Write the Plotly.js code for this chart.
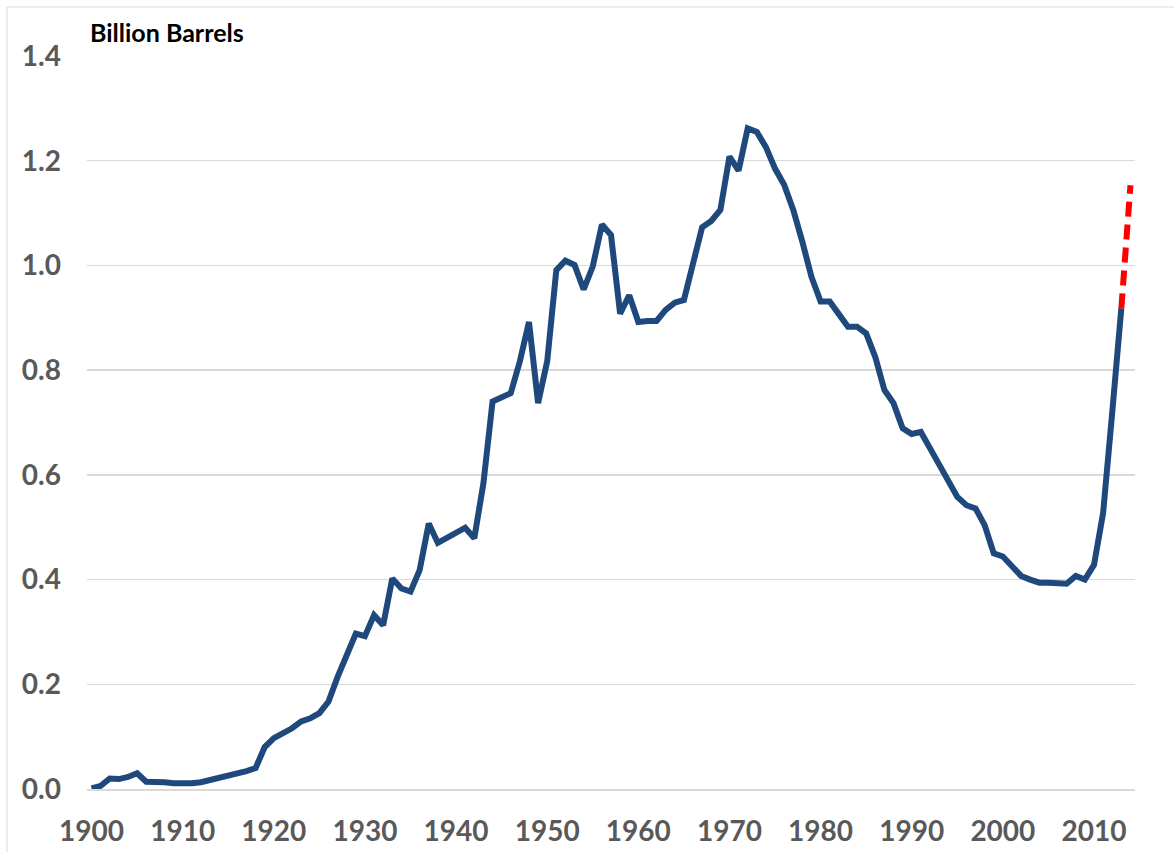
<!DOCTYPE html>
<html>
<head>
<meta charset="utf-8">
<script src="https://cdn.plot.ly/plotly-3.0.1.min.js"></script>
<style>
  html, body { margin: 0; padding: 0; background: #ffffff; }
  #chart { width: 1174px; height: 852px; }
</style>
</head>
<body>
<div id="chart"></div>
<script>
// ---- Data ----
const years = [
  1900,1901,1902,1903,1904,1905,1906,1907,1908,1909,
  1910,1911,1912,1913,1914,1915,1916,1917,1918,1919,
  1920,1921,1922,1923,1924,1925,1926,1927,1928,1929,
  1930,1931,1932,1933,1934,1935,1936,1937,1938,1939,
  1940,1941,1942,1943,1944,1945,1946,1947,1948,1949,
  1950,1951,1952,1953,1954,1955,1956,1957,1958,1959,
  1960,1961,1962,1963,1964,1965,1966,1967,1968,1969,
  1970,1971,1972,1973,1974,1975,1976,1977,1978,1979,
  1980,1981,1982,1983,1984,1985,1986,1987,1988,1989,
  1990,1991,1992,1993,1994,1995,1996,1997,1998,1999,
  2000,2001,2002,2003,2004,2005,2006,2007,2008,2009,
  2010,2011,2012,2013
];
const production = [
  0.001,0.006,0.020,0.019,0.023,0.030,0.014,0.014,0.013,0.011,
  0.010,0.011,0.013,0.017,0.022,0.027,0.030,0.034,0.040,0.080,
  0.097,0.105,0.116,0.129,0.135,0.145,0.167,0.214,0.253,0.297,
  0.292,0.332,0.313,0.402,0.383,0.377,0.418,0.507,0.470,0.479,
  0.488,0.499,0.479,0.584,0.740,0.749,0.756,0.817,0.892,0.737,
  0.817,0.991,1.009,1.001,0.954,0.998,1.078,1.058,0.908,0.943,
  0.892,0.894,0.894,0.915,0.929,0.934,1.001,1.073,1.085,1.106,
  1.208,1.181,1.262,1.255,1.226,1.185,1.154,1.106,1.045,0.978,
  0.931,0.931,0.907,0.883,0.883,0.870,0.825,0.762,0.737,0.689,
  0.678,0.682,0.651,0.619,0.590,0.558,0.542,0.536,0.504,0.450,
  0.444,0.425,0.407,0.400,0.394,0.394,0.393,0.392,0.407,0.400,
  0.428,0.527,0.719,0.918
];
const projYears = [2013, 2014];
const projValues = [0.918, 1.153];

const xTickVals = [1900,1910,1920,1930,1940,1950,1960,1970,1980,1990,2000,2010];
const xTickText = ['1900','1910','1920','1930','1940','1950','1960','1970','1980','1990','2000','2010'];
const yTickVals = [0.0,0.2,0.4,0.6,0.8,1.0,1.2,1.4];
const yTickText = ['0.0','0.2','0.4','0.6','0.8','1.0','1.2','1.4'];
const yTitle = 'Billion Barrels';

// ---- Layout geometry ----
const W = 1174, H = 852;
const mL = 87, mR = 39, mT = 56, mB = 63;
const plotW = W - mL - mR, plotH = H - mT - mB;
const px2paperX = px => (px - mL) / plotW;
const px2paperY = py => (H - mB - py) / plotH;

const FONT = 'Lato, "Liberation Sans", sans-serif';
const tickFont = { family: FONT, size: 28, color: '#595959', weight: 'bold' };

const traces = [
  {
    x: years, y: production, type: 'scatter', mode: 'lines',
    line: { color: '#1f497d', width: 6 },
    hoverinfo: 'x+y', showlegend: false
  },
  {
    x: projYears, y: projValues, type: 'scatter', mode: 'lines',
    line: { color: '#ff0000', width: 6, dash: '15px,8px' },
    hoverinfo: 'x+y', showlegend: false
  }
];

const layout = {
  width: W, height: H,
  margin: { l: mL, r: mR, t: mT, b: mB, pad: 0 },
  paper_bgcolor: '#ffffff', plot_bgcolor: '#ffffff',
  showlegend: false,
  font: { family: FONT },
  xaxis: {
    range: [1899.5, 2014.5],
    tickmode: 'array', tickvals: xTickVals, ticktext: xTickText,
    tickfont: tickFont,
    showgrid: false, zeroline: false,
    showline: true, linecolor: '#d9d9d9', linewidth: 1.5,
    ticks: '', ticklabelstandoff: 17,
    fixedrange: true
  },
  yaxis: {
    range: [0, 1.4],
    tickmode: 'array', tickvals: yTickVals, ticktext: yTickText,
    tickfont: tickFont,
    showgrid: true, gridcolor: '#d9d9d9', gridwidth: 1.5,
    zeroline: false, showline: false,
    ticks: '', ticklabelstandoff: 25,
    fixedrange: true
  },
  annotations: [
    {
      text: yTitle, xref: 'paper', yref: 'paper',
      x: px2paperX(88), y: px2paperY(32),
      xanchor: 'left', yanchor: 'middle', showarrow: false,
      font: { family: FONT, size: 25, color: '#000000', weight: 'bold' }
    }
  ],
  shapes: [
    { type: 'line', xref: 'paper', yref: 'paper',
      x0: px2paperX(7), x1: px2paperX(7), y0: px2paperY(7), y1: px2paperY(860),
      line: { color: '#d9d9d9', width: 1 } },
    { type: 'line', xref: 'paper', yref: 'paper',
      x0: px2paperX(7), x1: px2paperX(1180), y0: px2paperY(7), y1: px2paperY(7),
      line: { color: '#d9d9d9', width: 1 } }
  ]
};

Plotly.newPlot('chart', traces, layout, { staticPlot: true, displayModeBar: false });
</script>
</body>
</html>
